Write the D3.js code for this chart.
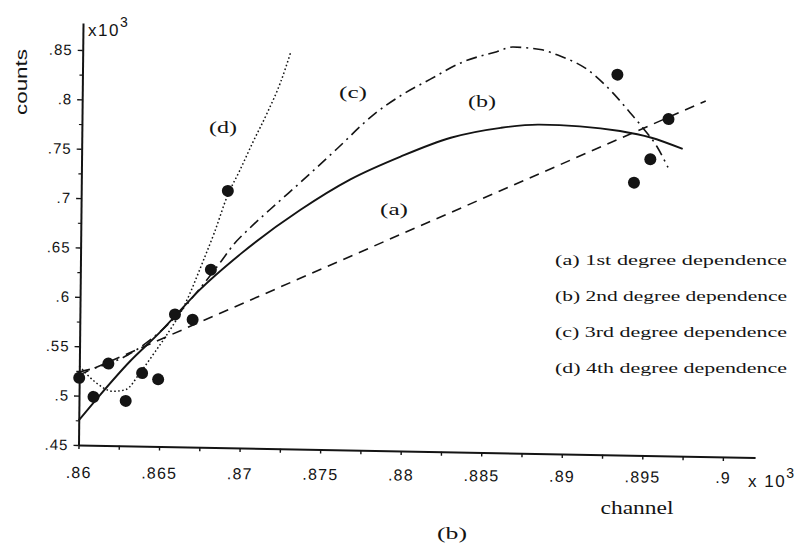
<!DOCTYPE html>
<html><head><meta charset="utf-8">
<script src="https://cdn.jsdelivr.net/npm/d3@7/dist/d3.min.js"></script>
<style>body{margin:0;background:#fff}svg{display:block}</style>
</head><body>
<svg id="chart" width="809" height="545"></svg>
<script>
// ---- data (channel and counts in units of 10^3) ----
const xTickValues = [0.86, 0.865, 0.87, 0.875, 0.88, 0.885, 0.89, 0.895, 0.9];
const xTickLabels = [".86", ".865", ".87", ".875", ".88", ".885", ".89", ".895", ".9"];
const yTickValues = [0.45, 0.5, 0.55, 0.6, 0.65, 0.7, 0.75, 0.8, 0.85];
const yTickLabels = [".45", ".5", ".55", ".6", ".65", ".7", ".75", ".8", ".85"];

const pointX = [0.8600, 0.8609, 0.8618, 0.8629, 0.8639, 0.8649, 0.8659, 0.8670, 0.8681, 0.8691, 0.8932, 0.8964, 0.8953, 0.8943];
const pointY = [0.518, 0.499, 0.533, 0.4955, 0.524, 0.518, 0.584, 0.579, 0.630, 0.710, 0.835, 0.791, 0.750, 0.726];

const fitAX = [0.8600, 0.8987];
const fitAY = [0.521, 0.810];
const fitBX = [0.8600, 0.8613, 0.8631, 0.8650, 0.8660, 0.8674, 0.8699, 0.8736, 0.8767, 0.8798, 0.8829, 0.8860, 0.8884, 0.8909, 0.8934, 0.8953, 0.8973];
const fitBY = [0.475, 0.501, 0.535, 0.566, 0.584, 0.609, 0.646, 0.692, 0.724, 0.748, 0.768, 0.779, 0.783, 0.782, 0.778, 0.772, 0.761];
const fitCX = [0.8600, 0.8613, 0.8630, 0.8644, 0.8659, 0.8674, 0.8687, 0.8695, 0.8705, 0.8722, 0.8736, 0.8758, 0.8781, 0.8797, 0.8816, 0.8836, 0.8857, 0.8867, 0.8884, 0.8896, 0.8913, 0.8929, 0.8940, 0.8948, 0.8957, 0.8964];
const fitCY = [0.524, 0.530, 0.542, 0.558, 0.581, 0.610, 0.638, 0.656, 0.673, 0.699, 0.720, 0.754, 0.790, 0.809, 0.827, 0.845, 0.856, 0.861, 0.859, 0.853, 0.840, 0.817, 0.797, 0.782, 0.763, 0.742];
const fitDX = [0.8600, 0.8610, 0.8621, 0.8629, 0.8638, 0.8647, 0.8654, 0.8665, 0.8676, 0.8683, 0.8691, 0.8698, 0.8706, 0.8715, 0.8723, 0.8729];
const fitDY = [0.530, 0.514, 0.505, 0.507, 0.525, 0.546, 0.563, 0.594, 0.638, 0.668, 0.706, 0.730, 0.759, 0.790, 0.821, 0.851];

const curveTags = ["(a)", "(b)", "(c)", "(d)"];
const legendLabels = ["(a) 1st degree dependence", "(b) 2nd degree dependence", "(c) 3rd degree dependence", "(d) 4th degree dependence"];

// ---- drawing ----
const svg = d3.select("#chart");
const ink = "#141414";
const sans = "'Liberation Sans', Arial, sans-serif";
const serif = "'Liberation Serif', 'Times New Roman', serif";

const x = d3.scaleLinear().domain([0.86, 0.902]).range([0, 676.6]);
const y = d3.scaleLinear().domain([0.45, 0.8773]).range([0, -422]);

// the scanned figure is slightly skewed
const plot = svg.append("g").attr("transform", "matrix(1,0.0185,-0.0107,1,78.5,445)");
const xLabG = svg.append("g").attr("transform", "matrix(1,0.008,-0.0107,1,78.5,445)");

const xMinor = xTickValues.slice(0, -1).map((v, i) => (v + xTickValues[i + 1]) / 2);
const yMinor = yTickValues.slice(0, -1).map((v, i) => (v + yTickValues[i + 1]) / 2);

// x axis line + ticks
const gx = plot.append("g").call(d3.axisBottom(x).tickValues(xTickValues.concat(xMinor)).tickSize(4).tickSizeOuter(0).tickFormat(""));
gx.select(".domain").attr("stroke", ink).attr("stroke-width", 2);
gx.selectAll(".tick line").attr("stroke", ink).attr("stroke-width", 1.4);

// x tick labels
const gxl = xLabG.append("g").call(d3.axisBottom(x).tickValues(xTickValues).tickSize(0).tickFormat((d, i) => xTickLabels[i]));
gxl.select(".domain").remove();
gxl.selectAll("text").attr("y", 33).attr("dy", 0)
  .attr("font-family", sans).attr("font-size", 16).attr("letter-spacing", 1.2).attr("fill", ink);

// y axis
const gy = plot.append("g").call(d3.axisLeft(y).tickValues(yTickValues).tickSize(5).tickSizeOuter(0).tickPadding(5).tickFormat((d, i) => yTickLabels[i]));
gy.select(".domain").attr("stroke", ink).attr("stroke-width", 2);
gy.selectAll(".tick line").attr("stroke", ink).attr("stroke-width", 1.4);
gy.selectAll("text").attr("font-family", sans).attr("font-size", 15).attr("letter-spacing", 1).attr("fill", ink);
const gym = plot.append("g").call(d3.axisLeft(y).tickValues(yMinor).tickSize(3).tickFormat(""));
gym.select(".domain").remove();
gym.selectAll(".tick line").attr("stroke", ink).attr("stroke-width", 1.2);

// fitted curves
const line = d3.line().x(d => x(d[0])).y(d => y(d[1])).curve(d3.curveMonotoneX);
const zip = (a, b) => a.map((v, i) => [v, b[i]]);
const curves = [
  {d: zip(fitAX, fitAY), dash: "10,7", w: 1.6},
  {d: zip(fitBX, fitBY), dash: null, w: 1.9},
  {d: zip(fitCX, fitCY), dash: "11,5,2,5", w: 1.6},
  {d: zip(fitDX, fitDY), dash: "1.6,2.4", w: 1.5}
];
curves.forEach(c => {
  plot.append("path").attr("d", line(c.d)).attr("fill", "none").attr("stroke", ink)
    .attr("stroke-width", c.w).attr("stroke-dasharray", c.dash);
});

// data points
plot.append("g").selectAll("circle").data(zip(pointX, pointY)).join("circle")
  .attr("cx", d => x(d[0])).attr("cy", d => y(d[1])).attr("r", 6).attr("fill", ink);

// curve tags
const tagPos = [[394, 215], [482, 107], [353, 98], [223, 133]];
curveTags.forEach((t, i) => {
  svg.append("text").attr("x", tagPos[i][0]).attr("y", tagPos[i][1]).attr("text-anchor", "middle")
    .attr("font-family", serif).attr("font-size", 17).attr("fill", ink)
    .attr("textLength", 28).attr("lengthAdjust", "spacingAndGlyphs").text(t);
});

// legend
const legY = [265, 301, 337, 373];
legendLabels.forEach((t, i) => {
  svg.append("text").attr("x", 555).attr("y", legY[i])
    .attr("font-family", serif).attr("font-size", 14).attr("fill", ink)
    .attr("textLength", 232).attr("lengthAdjust", "spacingAndGlyphs").text(t);
});

// axis titles
svg.append("text").attr("transform", "translate(27,82) rotate(-90)").attr("text-anchor", "middle")
  .attr("font-family", sans).attr("font-size", 17).attr("fill", ink)
  .attr("textLength", 66).attr("lengthAdjust", "spacingAndGlyphs").text("counts");

const yMul = svg.append("text").attr("x", 88).attr("y", 36).attr("font-family", sans).attr("font-size", 17)
  .attr("letter-spacing", 1.5).attr("fill", ink);
yMul.append("tspan").text("x10");
yMul.append("tspan").attr("dy", -9).attr("font-size", 14).text("3");

const xMul = svg.append("text").attr("x", 748).attr("y", 487).attr("font-family", sans).attr("font-size", 17)
  .attr("letter-spacing", 1.5).attr("fill", ink);
xMul.append("tspan").text("x 10");
xMul.append("tspan").attr("dy", -9).attr("font-size", 14).text("3");

svg.append("text").attr("x", 637).attr("y", 514).attr("text-anchor", "middle")
  .attr("font-family", serif).attr("font-size", 18).attr("fill", ink)
  .attr("textLength", 73).attr("lengthAdjust", "spacingAndGlyphs").text("channel");

svg.append("text").attr("x", 452).attr("y", 539).attr("text-anchor", "middle")
  .attr("font-family", serif).attr("font-size", 17).attr("fill", ink)
  .attr("textLength", 30).attr("lengthAdjust", "spacingAndGlyphs").text("(b)");
</script>
</body></html>
